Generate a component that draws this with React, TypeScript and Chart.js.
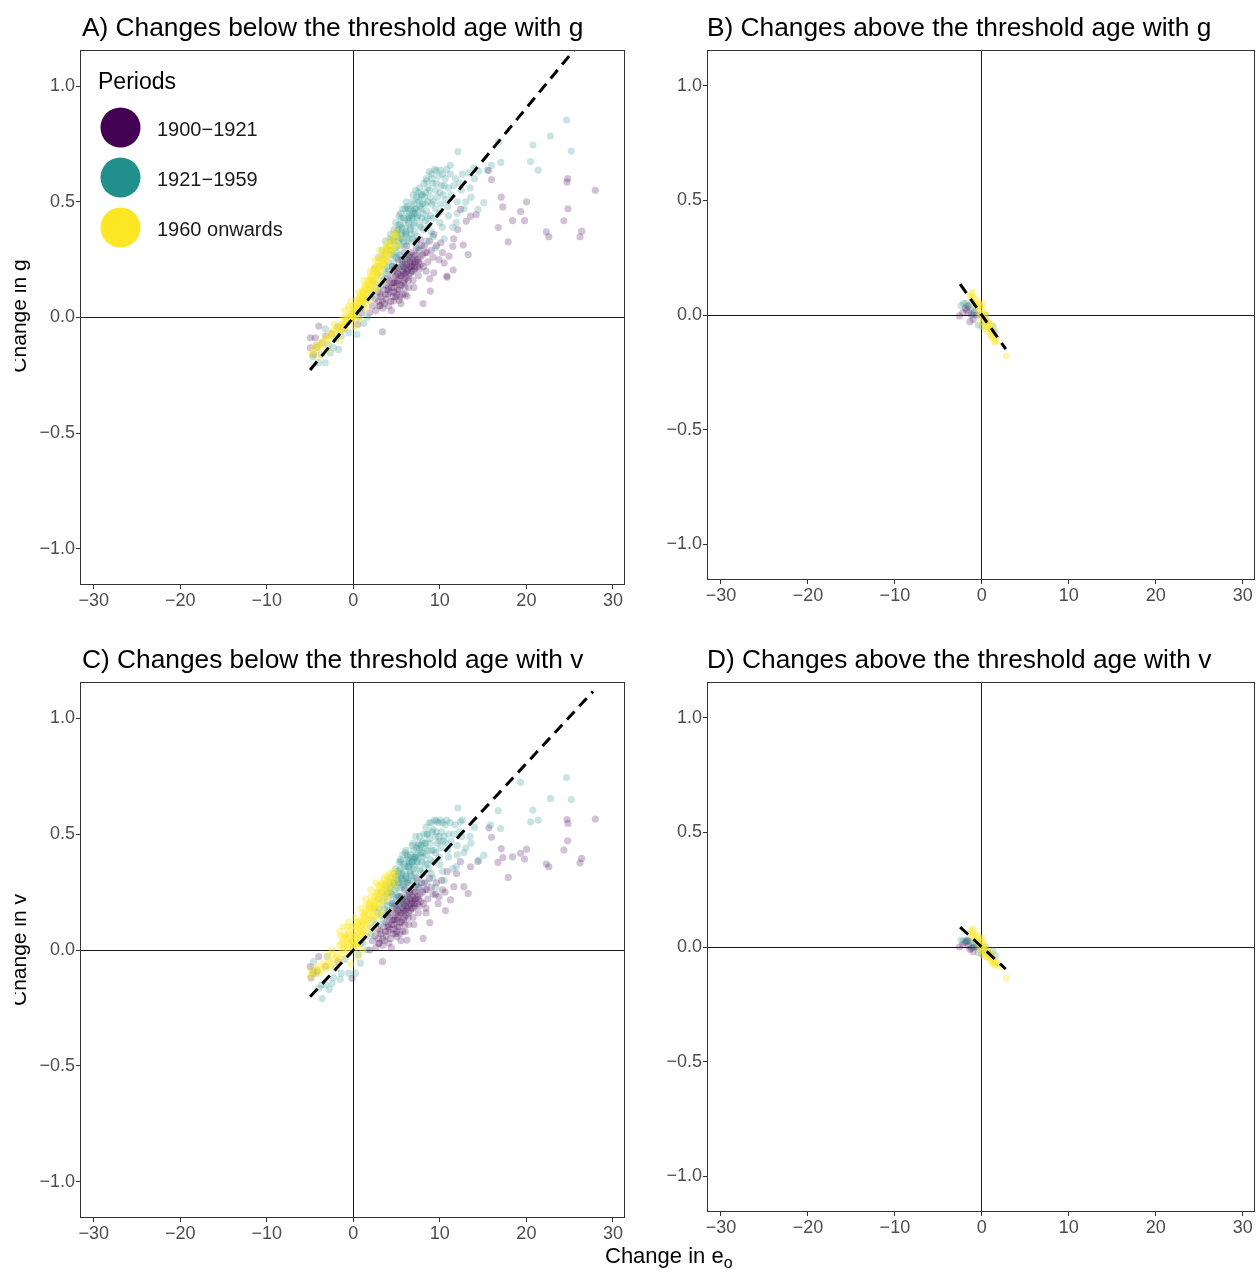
import React, { useEffect, useRef } from 'react';
import { Chart, registerables } from 'chart.js';

Chart.register(...registerables);
Chart.defaults.font.family = "'Liberation Sans', Arial, sans-serif";

// ---------- shared labels / ticks ----------
const legendTitle = 'Periods';
const periodLabels = ['1900\u22121921', '1921\u22121959', '1960 onwards'];
const periodColors = ['#440154', '#21908C', '#FDE725'];
const periodFill = ['rgba(68,1,84,0.24)', 'rgba(33,144,140,0.24)', 'rgba(253,231,37,0.36)'];
const xTickValues = [-30, -20, -10, 0, 10, 20, 30];
const yTickValues = [-1, -0.5, 0, 0.5, 1];
const xLimits = [-31.6, 31.4];
const yLimits = [-1.156, 1.156];

const panelTitles = [
  'A) Changes below the threshold age with g',
  'B) Changes above the threshold age with g',
  'C) Changes below the threshold age with v',
  'D) Changes above the threshold age with v',
];
const yTitles = ['Change in g', 'Change in v'];

// ---------- Panel A data (below threshold, g) ----------
const aPurple = [
  [27.97,0.55],[24.77,0.60],[24.69,0.585],[24.81,0.47],[24.34,0.418],[26.39,0.373],[26.2,0.349],[22.3,0.37],[22.6,0.349],
  [20.02,0.5],[19.33,0.458],[19.79,0.419],[18.4,0.419],[17.09,0.52],[17.28,0.478],[16.75,0.389],[17.9,0.327],[15.97,0.596],
  [15.63,0.635],[14.2,0.445],[13.54,0.438],[13.04,0.416],[12.38,0.467],[13.27,0.272],[12.07,0.38],[11.6,0.34],[12.69,0.313],
  [11.07,0.265],[11.5,0.308],[11.54,0.205],[10.84,0.174],[9.3,0.193],[8.83,0.167],[8.06,0.06],[6.2,0.092],[5.3,0.075],
  [4.67,0.071],[3.36,-0.062],[3.1,0.052],[10.5,0.236],[10.1,0.323],[9.3,0.359],[7.75,0.337],[10.8,0.179],[8.9,0.114],
  [3.2,0.09],[3.5,0.12],[3.8,0.14],[4.0,0.10],[4.2,0.16],[4.4,0.13],[4.6,0.18],[4.8,0.15],[5.0,0.20],[5.1,0.12],
  [5.3,0.17],[5.5,0.22],[5.6,0.14],[5.8,0.19],[6.0,0.24],[6.1,0.17],[6.3,0.21],[6.5,0.26],[6.6,0.19],[6.8,0.23],
  [7.0,0.27],[7.1,0.21],[7.4,0.25],[7.6,0.29],[7.8,0.23],[8.0,0.27],[4.3,0.07],[4.9,0.09],[5.7,0.10],[6.4,0.13],
  [3.0,0.05],[3.6,0.06],[2.8,0.11],[2.5,0.08],[2.2,0.05],[5.2,0.25],[4.5,0.22],[6.9,0.16],[7.5,0.18],[5.9,0.28],
  [6.2,0.31],[7.3,0.33],[8.2,0.31],[8.6,0.24],[9.0,0.29],
  [3.4,0.04],[3.9,0.17],[4.1,0.05],[4.7,0.11],[4.75,0.21],[5.05,0.15],[5.4,0.09],[5.45,0.18],[5.85,0.22],[5.95,0.13],
  [6.25,0.25],[6.35,0.16],[6.7,0.28],[6.75,0.2],[7.2,0.24],[7.25,0.3],[7.7,0.26],[7.9,0.31],[8.3,0.28],[8.4,0.2],
  [8.8,0.33],[9.2,0.26],[9.6,0.31],[9.9,0.25],[10.3,0.28],[7.0,0.13],[6.0,0.1],[5.5,0.06],[4.4,0.03],[3.7,0.1],
  [4.05,0.13],[4.65,0.15],[5.15,0.19],[5.7,0.23],[6.2,0.2],[6.55,0.22],[7.05,0.22],[7.55,0.24],[8.1,0.22],[8.5,0.28],
  [2.9,0.07],[2.6,0.03],[1.9,0.02],
  [-4.98,-0.088],[-4.98,-0.131],[-4.0,-0.037],[-4.4,-0.088],[-4.6,-0.16],[-3.6,-0.11],[-2.5,-0.07],[-1.2,-0.05],[0.5,-0.03],[1.0,0.02],
  [-3.2,-0.08],[-4.2,-0.13],[-1.8,-0.04],
];
const aPurpleCore = [
  [4.25,0.11],[4.5,0.15],[4.7,0.13],[4.9,0.18],[5.1,0.16],[5.25,0.21],[5.4,0.14],[5.6,0.18],[5.75,0.2],[5.9,0.16],
  [6.05,0.21],[6.2,0.23],[6.4,0.18],[6.55,0.24],[6.7,0.22],[6.85,0.25],[7.05,0.24],[7.2,0.27],[7.4,0.22],[5.3,0.12],
  [5.0,0.1],[4.6,0.09],[3.8,0.08],[4.0,0.12],[5.55,0.25],[6.0,0.19],[6.9,0.2],[7.6,0.21],[5.8,0.15],[6.45,0.27],[3.4,0.07],[3.1,0.1],
];
const aTeal = [
  [24.65,0.853],[22.76,0.784],[25.19,0.719],[20.76,0.745],[20.49,0.674],[21.37,0.637],[16.78,0.759],[17.05,0.67],[15.97,0.657],
  [15.47,0.637],[12.08,0.717],[13.93,0.647],[14.5,0.632],[15.08,0.496],[14.43,0.467],[11.23,0.658],[9.57,0.635],[10.07,0.637],[13.35,0.625],
  [1.5,0.08],[2.0,0.12],[2.3,0.16],[2.6,0.14],[2.8,0.19],[3.0,0.22],[3.2,0.18],[3.4,0.25],[3.6,0.21],[3.8,0.28],[4.0,0.24],
  [4.2,0.31],[4.4,0.27],[4.6,0.34],[4.8,0.30],[5.0,0.37],[5.2,0.33],[5.4,0.40],[5.6,0.36],[5.8,0.43],[6.0,0.39],[6.2,0.45],
  [6.4,0.41],[6.6,0.47],[6.8,0.43],[7.0,0.49],[7.2,0.45],[7.5,0.51],[7.8,0.47],[8.0,0.53],[8.3,0.49],[8.6,0.56],[8.9,0.52],
  [9.2,0.58],[9.5,0.55],[9.8,0.61],[10.2,0.57],[10.6,0.6],[11.0,0.56],
  [3.5,0.16],[4.1,0.2],[4.7,0.24],[5.3,0.27],[5.9,0.31],[6.5,0.34],[7.1,0.37],[7.7,0.40],[8.3,0.42],[8.9,0.44],[9.5,0.47],
  [10.1,0.49],[10.7,0.51],[11.3,0.53],[12.0,0.5],
  [9.0,0.37],[10.0,0.41],[11.0,0.44],[12.0,0.45],[13.0,0.5],[11.5,0.39],[12.5,0.55],[10.5,0.34],[9.5,0.30],[8.5,0.33],
  [7.5,0.30],[6.2,0.27],[5.5,0.22],[11.8,0.6],[12.6,0.62],[9.0,0.62],[8.4,0.6],[7.2,0.55],[6.8,0.5],[6.0,0.47],[5.5,0.43],
  [2.4,0.21],[2.9,0.26],[3.3,0.29],[3.7,0.33],[3.9,0.22],[4.3,0.36],[4.5,0.22],[4.9,0.41],[5.1,0.28],[5.3,0.44],
  [5.5,0.31],[5.7,0.47],[5.75,0.25],[6.1,0.5],[6.3,0.33],[6.45,0.44],[6.7,0.36],[6.9,0.53],[7.05,0.41],[7.3,0.47],
  [7.4,0.35],[7.65,0.56],[7.9,0.43],[8.1,0.38],[8.15,0.58],[8.45,0.46],[8.7,0.4],[8.75,0.63],[9.05,0.49],[9.3,0.43],
  [9.4,0.64],[9.7,0.52],[9.9,0.45],[10.3,0.62],[10.4,0.53],[10.9,0.48],[11.2,0.62],[11.6,0.57],[12.3,0.58],[13.5,0.56],
  [14.0,0.6],[12.8,0.47],[13.6,0.52],[11.9,0.41],[10.3,0.39],[9.2,0.35],[5.0,0.26],[4.35,0.29],[3.85,0.19],[6.55,0.39],
  [7.35,0.43],[8.05,0.45],[6.15,0.36],[5.65,0.34],[4.75,0.33],[5.2,0.38],[6.9,0.46],[7.6,0.5],[8.2,0.52],[8.8,0.55],
  [9.6,0.58],[10.8,0.64],[3.1,0.13],[2.1,0.09],[1.1,0.05],[0.6,0.0],
  [-3.24,-0.049],[-4.0,-0.196],[-3.24,-0.196],[-2.66,-0.153],[-1.7,-0.138],[-0.54,-0.066],[0.42,-0.073],[1.2,-0.026],
  [-2.0,-0.09],[-1.0,-0.03],[0.0,0.02],[0.8,0.04],[-4.3,-0.12],[-2.9,-0.12],[1.6,0.0],
  [-1.4,-0.08],[-2.3,-0.13],[-3.7,-0.16],[-4.7,-0.17],
];
const aTealCore = [
  [4.1,0.29],[4.4,0.33],[4.6,0.27],[4.85,0.36],[5.05,0.31],[5.25,0.4],[5.35,0.34],[5.6,0.39],[5.8,0.33],[5.95,0.42],
  [6.05,0.37],[6.3,0.42],[6.35,0.47],[6.6,0.38],[6.75,0.44],[6.95,0.4],[7.1,0.47],[7.3,0.52],[7.45,0.44],[7.7,0.48],
  [7.85,0.53],[8.0,0.49],[8.35,0.54],[8.6,0.5],[5.15,0.35],[5.5,0.37],[6.0,0.36],[6.5,0.43],[7.0,0.45],[3.6,0.27],
  [3.9,0.3],[4.25,0.34],[4.7,0.38],[5.45,0.45],[6.2,0.48],[7.55,0.54],[8.5,0.59],[9.1,0.6],[6.85,0.34],[7.8,0.39],
  [8.6,0.43],[9.3,0.5],[10.0,0.54],[10.5,0.57],
];
const aYellow = [
  [-4.9,-0.15],[-4.5,-0.13],[-4.2,-0.14],[-3.8,-0.11],[-3.5,-0.12],[-3.2,-0.09],[-2.9,-0.1],[-2.6,-0.07],[-2.3,-0.08],
  [-2.0,-0.05],[-1.8,-0.07],[-1.5,-0.04],[-1.3,-0.05],[-1.0,-0.02],[-0.8,-0.04],[-0.6,0.0],[-0.4,-0.02],[-0.2,0.02],
  [0.0,0.0],[0.1,0.04],[0.3,0.02],[0.4,0.06],[0.6,0.04],[0.7,0.08],[0.9,0.06],[1.0,0.1],[1.2,0.08],[1.3,0.12],[1.5,0.1],
  [1.6,0.14],[1.8,0.12],[1.9,0.16],[2.1,0.14],[2.2,0.18],[2.4,0.16],[2.5,0.2],[2.7,0.18],[2.8,0.22],[3.0,0.2],[3.1,0.24],
  [3.3,0.22],[3.4,0.26],[3.6,0.24],[3.7,0.28],[3.9,0.26],[4.0,0.3],[4.2,0.28],[4.4,0.32],[4.6,0.3],[4.8,0.34],[5.0,0.32],
  [4.7,0.36],[5.3,0.35],[-0.5,0.05],[-1.0,0.03],[0.2,-0.04],[0.8,-0.01],[1.5,0.04],[2.0,0.07],[2.6,0.12],[3.2,0.15],
  [-1.5,-0.1],[-3.0,-0.14],[-4.0,-0.17],[-2.2,-0.03],[-0.3,0.07],
  [-4.7,-0.16],[-4.3,-0.12],[-3.9,-0.13],[-3.4,-0.1],[-2.8,-0.08],[-2.4,-0.06],[-1.9,-0.04],[-1.6,-0.06],[-1.1,-0.03],
  [-0.9,0.0],[-0.7,-0.02],[-0.5,0.01],[-0.1,0.01],[0.05,0.03],[0.25,0.05],[0.5,0.03],[0.55,0.07],[0.85,0.09],[1.05,0.07],
  [1.15,0.11],[1.4,0.13],[1.45,0.08],[1.7,0.11],[1.75,0.15],[2.0,0.17],[2.05,0.12],[2.3,0.15],[2.35,0.2],[2.6,0.22],
  [2.65,0.16],[2.9,0.18],[2.95,0.24],[3.2,0.26],[3.25,0.2],[3.5,0.23],[3.55,0.29],[3.8,0.31],[3.85,0.24],[4.1,0.27],
  [4.15,0.33],[4.5,0.29],[4.5,0.35],[4.9,0.37],[5.2,0.31],[3.0,0.29],[2.5,0.25],[1.9,0.2],[1.2,0.16],[0.6,0.11],
  [0.0,0.05],[-0.6,0.04],[-1.2,0.0],
];
const aYellowCore = [
  [-0.2,-0.01],[0.15,0.01],[0.35,0.04],[0.65,0.06],[0.95,0.08],[1.25,0.1],[1.55,0.12],[1.85,0.14],[2.15,0.16],[2.45,0.18],
  [2.75,0.2],[3.05,0.22],[3.35,0.24],[3.65,0.26],[3.95,0.28],[4.25,0.3],[-0.45,0.0],[-0.75,-0.01],[-1.05,-0.04],[-1.35,-0.03],
  [0.45,0.08],[0.75,0.1],[1.05,0.12],[1.35,0.14],[1.65,0.16],[1.95,0.18],[2.25,0.2],[2.55,0.22],[2.85,0.24],[3.15,0.26],
  [3.45,0.28],[3.75,0.3],[4.05,0.32],[0.25,0.0],[1.35,0.06],[2.45,0.13],
];
const aFit = [[-5, -0.227], [27.97, 1.267]];

// ---------- Panel B data (above threshold, g) ----------
const bPurple = [
  [-2.59,-0.004],[-1.37,-0.029],[-1.75,0.022],[-1.9,0.03],[-1.5,0.01],[-1.2,0.0],[-0.9,0.01],[-2.2,0.01],[-1.0,-0.02],[-0.6,0.0],[-1.6,0.04],
];
const bTeal = [
  [-2.13,0.051],[-0.42,-0.044],[1.49,-0.073],[-1.8,0.05],[-1.5,0.04],[-1.2,0.03],[-0.8,0.02],[-0.3,0.0],[0.2,-0.02],[0.6,-0.03],
  [1.0,-0.06],[1.3,-0.05],[-1.0,0.0],[0.0,-0.05],[-2.4,0.04],[0.4,0.0],
];
const bYellow = [
  [-1.37,0.08],[-1.1,0.07],[-0.9,0.05],[-0.7,0.04],[-0.5,0.03],[-0.3,0.01],[-0.1,0.0],[0.1,-0.01],[0.3,-0.02],[0.5,-0.03],
  [0.7,-0.05],[0.9,-0.06],[1.1,-0.07],[1.3,-0.08],[1.5,-0.09],[1.68,-0.109],[2.82,-0.179],[-0.8,0.07],[-0.4,0.05],[0.0,0.03],
  [0.4,0.0],[0.8,-0.03],[1.2,-0.05],[-0.2,-0.03],[0.2,-0.05],[0.6,-0.07],[1.0,-0.09],[1.4,-0.11],[-1.0,0.1],[0.1,0.05],
  [-1.2,0.09],[-0.6,0.06],[0.3,0.01],[0.9,-0.04],[1.5,-0.12],[0.5,-0.06],[-0.1,0.04],[1.2,-0.09],
];
const bFit = [[-2.5, 0.135], [2.75, -0.149]];

// ---------- Panel C data (below threshold, v) ----------
const cPurple = [
  [27.97,0.565],[24.69,0.563],[24.81,0.546],[24.77,0.471],[24.34,0.431],[26.39,0.395],[26.2,0.376],[22.3,0.371],[22.6,0.359],
  [20.02,0.435],[19.33,0.417],[19.79,0.392],[18.4,0.402],[17.28,0.399],[17.09,0.437],[16.71,0.378],[17.9,0.313],[15.66,0.527],
  [15.97,0.486],[14.39,0.382],[13.54,0.359],[12.38,0.381],[11.92,0.33],[12.77,0.273],[13.27,0.244],[11.61,0.273],[11.23,0.216],
  [10.65,0.17],[8.83,0.118],[8.06,0.05],[6.2,0.043],[5.05,0.057],[3.36,-0.05],[2.93,0.029],[-0.15,-0.122],
  [-4.98,-0.072],[-4.0,-0.029],[-4.6,-0.1],[-4.9,-0.12],
  [3.2,0.07],[3.5,0.10],[3.8,0.12],[4.0,0.08],[4.2,0.14],[4.4,0.11],[4.6,0.16],[4.8,0.13],[5.0,0.18],[5.1,0.10],
  [5.3,0.15],[5.5,0.2],[5.6,0.12],[5.8,0.17],[6.0,0.22],[6.1,0.15],[6.3,0.19],[6.5,0.24],[6.6,0.17],[6.8,0.21],
  [7.0,0.25],[7.1,0.19],[7.4,0.23],[7.6,0.27],[7.8,0.21],[8.0,0.25],[4.3,0.05],[4.9,0.07],[5.7,0.08],[6.4,0.11],
  [3.0,0.03],[3.6,0.04],[2.8,0.09],[2.5,0.06],[2.2,0.04],[5.2,0.23],[4.5,0.2],[6.9,0.14],[7.5,0.16],[5.9,0.26],
  [6.2,0.29],[7.3,0.31],[8.2,0.29],[8.6,0.22],[9.0,0.27],[9.5,0.24],[10.2,0.3],[9.8,0.2],[8.4,0.16],[10.6,0.25],[10.84,0.338],
  [3.4,0.02],[3.9,0.15],[4.1,0.03],[4.7,0.09],[4.75,0.19],[5.05,0.13],[5.4,0.07],[5.45,0.16],[5.85,0.2],[5.95,0.11],
  [6.25,0.23],[6.35,0.14],[6.7,0.26],[6.75,0.18],[7.2,0.22],[7.25,0.28],[7.7,0.24],[7.9,0.29],[8.3,0.26],[8.4,0.18],
  [8.8,0.31],[9.2,0.24],[9.6,0.29],[9.9,0.23],[10.3,0.26],[7.0,0.11],[6.0,0.08],[5.5,0.04],[4.4,0.01],[3.7,0.08],
  [4.05,0.11],[4.65,0.13],[5.15,0.17],[5.7,0.21],[6.2,0.18],[6.55,0.2],[7.05,0.2],[7.55,0.22],[8.1,0.2],[8.5,0.26],
  [2.9,0.05],[2.6,0.01],[1.9,0.0],[-3.2,-0.07],[-4.2,-0.09],[-1.8,-0.05],
];
const cPurpleCore = [
  [4.25,0.09],[4.5,0.13],[4.7,0.11],[4.9,0.16],[5.1,0.14],[5.25,0.19],[5.4,0.12],[5.6,0.16],[5.75,0.18],[5.9,0.14],
  [6.05,0.19],[6.2,0.21],[6.4,0.16],[6.55,0.22],[6.7,0.2],[6.85,0.23],[7.05,0.22],[7.2,0.25],[7.4,0.2],[5.3,0.1],
  [5.0,0.08],[4.6,0.07],[3.8,0.06],[4.0,0.1],[5.55,0.23],[6.0,0.17],[6.9,0.18],[7.6,0.19],[5.8,0.13],[6.45,0.25],[3.4,0.05],[3.1,0.08],
];
const cTeal = [
  [24.65,0.744],[22.8,0.654],[25.19,0.649],[20.76,0.603],[20.49,0.553],[21.37,0.56],[19.33,0.723],[17.01,0.524],[16.74,0.601],
  [15.86,0.539],[12.08,0.613],[12.38,0.553],[15.08,0.409],[14.5,0.388],[9.57,0.556],[10.07,0.56],[9.88,0.489],
  [1.5,0.06],[2.0,0.1],[2.3,0.13],[2.6,0.11],[2.8,0.16],[3.0,0.18],[3.2,0.15],[3.4,0.21],[3.6,0.18],[3.8,0.24],[4.0,0.21],
  [4.2,0.27],[4.4,0.24],[4.6,0.29],[4.8,0.26],[5.0,0.32],[5.2,0.29],[5.4,0.35],[5.6,0.31],[5.8,0.37],[6.0,0.34],[6.2,0.39],
  [6.4,0.36],[6.6,0.41],[6.8,0.38],[7.0,0.43],[7.2,0.4],[7.5,0.45],[7.8,0.42],[8.0,0.47],[8.3,0.44],[8.6,0.5],[8.9,0.46],
  [9.2,0.52],[9.5,0.49],[9.8,0.55],[10.2,0.51],[10.6,0.54],[11.0,0.5],
  [3.5,0.13],[4.1,0.17],[4.7,0.2],[5.3,0.23],[5.9,0.27],[6.5,0.3],[7.1,0.33],[7.7,0.35],[8.3,0.37],[8.9,0.39],[9.5,0.42],
  [10.1,0.44],[10.7,0.46],[11.3,0.47],[12.0,0.45],
  [9.0,0.33],[10.0,0.37],[11.0,0.4],[12.0,0.41],[13.0,0.44],[11.5,0.35],[12.5,0.49],[10.5,0.3],[9.5,0.27],[8.5,0.29],
  [7.5,0.27],[6.2,0.24],[5.5,0.19],[11.8,0.54],[12.6,0.56],[9.0,0.55],[8.4,0.53],[7.2,0.49],[6.8,0.45],[6.0,0.42],[5.5,0.38],
  [2.4,0.18],[2.9,0.22],[3.3,0.25],[3.7,0.28],[3.9,0.19],[4.3,0.31],[4.5,0.19],[4.9,0.35],[5.1,0.24],[5.3,0.38],
  [5.5,0.27],[5.7,0.41],[5.75,0.22],[6.1,0.43],[6.3,0.29],[6.45,0.38],[6.7,0.32],[6.9,0.46],[7.05,0.36],[7.3,0.41],
  [7.4,0.3],[7.65,0.49],[7.9,0.38],[8.1,0.33],[8.15,0.5],[8.45,0.41],[8.7,0.35],[8.75,0.55],[9.05,0.43],[9.3,0.38],
  [9.4,0.56],[9.7,0.46],[9.9,0.4],[10.3,0.55],[10.4,0.47],[10.9,0.43],[11.2,0.55],[11.6,0.5],[12.3,0.51],[13.5,0.49],
  [14.0,0.53],[12.8,0.42],[13.6,0.46],[11.9,0.36],[10.3,0.34],[9.2,0.31],[5.0,0.22],[4.35,0.25],[3.85,0.16],[6.55,0.34],
  [7.35,0.38],[8.05,0.4],[6.15,0.31],[5.65,0.3],[4.75,0.29],[5.2,0.33],[6.9,0.4],[7.6,0.44],[8.2,0.46],[8.8,0.48],
  [9.6,0.51],[10.8,0.56],[3.1,0.11],[2.1,0.07],[1.1,0.03],[0.6,-0.02],
  [-4.0,-0.165],[-3.24,-0.151],[-2.5,-0.144],[-1.5,-0.126],[-0.54,-0.1],[0.81,-0.057],[0.23,-0.1],[-4.6,-0.05],[-3.05,-0.029],
  [-2.0,-0.08],[-1.0,-0.04],[0.0,0.01],[0.8,0.03],[-4.3,-0.1],[1.6,0.0],[-3.6,-0.21],[-2.8,-0.17],
  [-1.4,-0.1],[-2.3,-0.12],[-3.7,-0.15],[-4.7,-0.09],
];
const cTealCore = [
  [4.1,0.25],[4.4,0.28],[4.6,0.23],[4.85,0.31],[5.05,0.27],[5.25,0.34],[5.35,0.29],[5.6,0.33],[5.8,0.28],[5.95,0.36],
  [6.05,0.32],[6.3,0.36],[6.35,0.4],[6.6,0.33],[6.75,0.38],[6.95,0.35],[7.1,0.4],[7.3,0.44],[7.45,0.38],[7.7,0.41],
  [7.85,0.45],[8.0,0.42],[8.35,0.46],[8.6,0.43],[5.15,0.3],[5.5,0.32],[6.0,0.31],[6.5,0.37],[7.0,0.39],[3.6,0.23],
  [3.9,0.26],[4.25,0.29],[4.7,0.33],[5.45,0.39],[6.2,0.41],[7.55,0.46],[8.5,0.5],[9.1,0.51],[6.85,0.3],[7.8,0.34],
  [8.6,0.37],[9.3,0.43],[10.0,0.47],[10.5,0.49],
];
const cYellow = [
  [-4.9,-0.09],[-4.5,-0.1],[-4.2,-0.07],[-3.8,-0.09],[-3.5,-0.06],[-3.2,-0.08],[-2.9,-0.05],[-2.6,-0.07],[-2.3,-0.04],
  [-2.0,-0.06],[-1.8,-0.02],[-1.5,-0.04],[-1.3,0.0],[-1.0,-0.02],[-0.8,0.03],[-0.6,0.0],[-0.4,0.05],[-0.2,0.02],[0.0,0.07],
  [0.1,0.0],[0.3,0.09],[0.4,0.03],[0.6,0.11],[0.7,0.05],[0.9,0.13],[1.0,0.07],[1.2,0.15],[1.3,0.09],[1.5,0.17],[1.6,0.11],
  [1.8,0.19],[1.9,0.13],[2.1,0.21],[2.2,0.15],[2.4,0.23],[2.5,0.17],[2.7,0.25],[2.8,0.19],[3.0,0.27],[3.1,0.21],[3.3,0.29],
  [3.4,0.23],[3.6,0.3],[3.7,0.25],[3.9,0.32],[4.0,0.27],[4.2,0.33],[4.4,0.29],[4.6,0.34],[4.8,0.31],[5.0,0.33],
  [-1.6,0.08],[-1.2,0.1],[-0.5,0.12],[0.2,0.14],[0.8,0.18],[1.4,0.22],[2.0,0.26],[2.6,0.29],[0.5,-0.03],[-0.3,-0.06],
  [1.1,0.0],[-1.0,0.06],[-2.5,0.0],[-3.0,-0.02],[-4.98,-0.115],[-0.73,0.1],
  [-4.7,-0.1],[-4.3,-0.08],[-3.9,-0.1],[-3.4,-0.07],[-2.8,-0.06],[-2.4,-0.02],[-1.9,-0.03],[-1.6,0.02],[-1.1,0.03],
  [-0.9,0.06],[-0.7,0.01],[-0.5,0.08],[-0.1,0.04],[0.05,0.1],[0.25,0.06],[0.5,0.12],[0.55,0.02],[0.85,0.08],[1.05,0.16],
  [1.15,0.05],[1.4,0.12],[1.45,0.19],[1.7,0.08],[1.75,0.2],[2.0,0.14],[2.05,0.23],[2.3,0.1],[2.35,0.19],[2.6,0.24],
  [2.65,0.14],[2.9,0.22],[2.95,0.28],[3.2,0.25],[3.25,0.17],[3.5,0.27],[3.55,0.31],[3.8,0.22],[3.85,0.29],[4.1,0.31],
  [4.15,0.24],[4.5,0.32],[4.5,0.27],[4.9,0.29],[3.0,0.15],[2.5,0.2],[1.9,0.17],[1.2,0.11],[0.6,0.07],[0.0,0.03],
  [-0.6,0.07],[-1.2,0.05],[-1.5,0.06],[-0.2,0.1],
];
const cYellowCore = [
  [-0.2,0.04],[0.15,0.06],[0.35,0.1],[0.65,0.12],[0.95,0.1],[1.25,0.14],[1.55,0.15],[1.85,0.18],[2.15,0.18],[2.45,0.21],
  [2.75,0.22],[3.05,0.24],[3.35,0.26],[3.65,0.27],[3.95,0.29],[4.25,0.3],[-0.45,0.03],[-0.75,0.05],[-1.05,0.01],[-1.35,0.03],
  [0.45,0.05],[0.75,0.08],[1.05,0.12],[1.35,0.16],[1.65,0.13],[1.95,0.2],[2.25,0.16],[2.55,0.19],[2.85,0.25],[3.15,0.28],
  [3.45,0.21],[3.75,0.24],[4.05,0.26],[0.25,0.02],[1.35,0.07],[2.45,0.1],
];
const cFit = [[-5, -0.202], [27.7, 1.115]];

// ---------- Panel D data (above threshold, v) ----------
const dPurple = [
  [-2.59,0.0],[-1.37,-0.01],[-1.75,0.025],[-1.9,0.02],[-1.5,0.005],[-1.2,-0.005],[-0.9,0.0],[-2.2,0.01],[-1.0,-0.02],[-0.6,0.0],[-1.6,0.03],
];
const dTeal = [
  [-2.13,0.026],[-0.42,-0.025],[1.3,-0.017],[-1.8,0.03],[-1.5,0.025],[-1.2,0.02],[-0.8,0.01],[-0.3,0.0],[0.2,-0.01],[0.6,-0.02],
  [1.0,-0.03],[1.6,-0.04],[-1.0,0.0],[0.0,-0.03],[-2.4,0.03],[0.4,0.0],
];
const dYellow = [
  [-1.37,0.06],[-1.1,0.05],[-0.9,0.04],[-0.7,0.03],[-0.5,0.02],[-0.3,0.01],[-0.1,0.0],[0.1,-0.01],[0.3,-0.015],[0.5,-0.025],
  [0.7,-0.03],[0.9,-0.04],[1.1,-0.05],[1.3,-0.055],[1.5,-0.065],[1.7,-0.07],[2.06,-0.085],[2.82,-0.136],[-0.8,0.06],[-0.4,0.04],
  [0.0,0.02],[0.4,0.0],[0.8,-0.02],[1.2,-0.035],[-0.2,-0.02],[0.2,-0.035],[0.6,-0.045],[1.0,-0.06],[1.4,-0.075],[-1.0,0.08],[0.1,0.04],
  [-1.2,0.07],[-0.6,0.05],[0.3,0.01],[0.9,-0.025],[1.5,-0.08],[0.5,-0.04],[-0.1,0.03],[1.2,-0.065],
];
const dFit = [[-2.5, 0.087], [2.75, -0.096]];

// ---------- helpers ----------
const FONT = "'Liberation Sans', Arial, sans-serif";
const toPts = (arr: number[][]) => arr.map(([x, y]) => ({ x, y }));
const fmtX = (v: number) => (v < 0 ? '\u2212' + Math.abs(v) : String(v));
const fmtY = (v: number) => (v < 0 ? '\u2212' + Math.abs(v).toFixed(1) : v.toFixed(1));

const framePlugin = {
  id: 'frame',
  afterDraw(chart: any) {
    const { ctx, chartArea: a } = chart;
    ctx.save();
    ctx.strokeStyle = '#333333';
    ctx.lineWidth = 1;
    ctx.strokeRect(Math.round(a.left) + 0.5, Math.round(a.top) + 0.5, Math.round(a.right - a.left) - 1, Math.round(a.bottom - a.top) - 1);
    ctx.restore();
  },
};

const legendPlugin = {
  id: 'periodLegend',
  afterDraw(chart: any) {
    const { ctx, chartArea: a } = chart;
    ctx.save();
    ctx.textBaseline = 'alphabetic';
    ctx.textAlign = 'left';
    ctx.fillStyle = '#000';
    ctx.font = `23px ${FONT}`;
    ctx.fillText(legendTitle, a.left + 18, a.top + 39);
    periodLabels.forEach((lab, i) => {
      const cy = a.top + 77.5 + i * 50;
      ctx.beginPath();
      ctx.arc(a.left + 40.5, cy, 20, 0, Math.PI * 2);
      ctx.fillStyle = periodColors[i];
      ctx.fill();
      ctx.fillStyle = '#1a1a1a';
      ctx.font = `20px ${FONT}`;
      ctx.fillText(lab, a.left + 77, cy + 8);
    });
    ctx.restore();
  },
};

type Spec = {
  left: number; top: number; width: number; height: number;
  padTop: number; padRight: number; yWidth: number; xHeight: number;
  series: number[][][]; fit: number[][]; legend?: boolean;
};

function Panel({ spec }: { spec: Spec }) {
  const ref = useRef<HTMLCanvasElement>(null);
  useEffect(() => {
    const gridColor = (c: any) => (c.tick && c.tick.value === 0 ? '#1a1a1a' : 'rgba(0,0,0,0)');
    const chart = new Chart(ref.current as HTMLCanvasElement, {
      type: 'scatter',
      data: {
        datasets: [
          {
            type: 'line',
            label: 'fit',
            data: toPts(spec.fit),
            borderColor: '#000',
            borderWidth: 3,
            borderDash: [11, 7],
            pointRadius: 0,
            fill: false,
            order: 0,
            clip: 0,
          } as any,
          ...spec.series.map((s, i) => ({
            label: periodLabels[i],
            data: toPts(s),
            backgroundColor: periodFill[i],
            borderWidth: 0,
            pointRadius: 3.6,
            order: 3 - i,
          })),
        ],
      },
      options: {
        responsive: false,
        animation: false,
        events: [],
        layout: { padding: { top: spec.padTop, right: spec.padRight, left: 0, bottom: 0 } },
        plugins: { legend: { display: false }, tooltip: { enabled: false }, title: { display: false } },
        scales: {
          x: {
            type: 'linear',
            min: xLimits[0],
            max: xLimits[1],
            afterBuildTicks: (s: any) => { s.ticks = xTickValues.map((v) => ({ value: v })); },
            afterFit: (s: any) => { s.height = spec.xHeight; },
            border: { display: false },
            grid: { color: gridColor, tickColor: '#333333', tickLength: 4, lineWidth: 1 },
            ticks: {
              callback: (v: any) => fmtX(Number(v)),
              color: '#4d4d4d',
              font: { size: 18, family: FONT },
              padding: 1,
              maxRotation: 0,
              autoSkip: false,
            },
          },
          y: {
            type: 'linear',
            min: yLimits[0],
            max: yLimits[1],
            afterBuildTicks: (s: any) => { s.ticks = yTickValues.map((v) => ({ value: v })); },
            afterFit: (s: any) => { s.width = spec.yWidth; },
            border: { display: false },
            grid: { color: gridColor, tickColor: '#333333', tickLength: 4, lineWidth: 1 },
            ticks: {
              callback: (v: any) => fmtY(Number(v)),
              color: '#4d4d4d',
              font: { size: 18, family: FONT },
              padding: 1,
              autoSkip: false,
            },
          },
        },
      } as any,
      plugins: spec.legend ? [framePlugin, legendPlugin] : [framePlugin],
    });
    return () => chart.destroy();
  }, [spec]);
  return (
    <canvas
      ref={ref}
      width={spec.width}
      height={spec.height}
      style={{ position: 'absolute', left: spec.left, top: spec.top, width: spec.width, height: spec.height }}
    />
  );
}

const specs: Spec[] = [
  { left: 0, top: 0, width: 640, height: 620, padTop: 50, padRight: 15, yWidth: 80, xHeight: 35,
    series: [aPurple.concat(aPurpleCore), aTeal.concat(aTealCore), aYellow.concat(aYellowCore)], fit: aFit, legend: true },
  { left: 630, top: 0, width: 629, height: 620, padTop: 50, padRight: 2, yWidth: 77, xHeight: 40,
    series: [bPurple, bTeal, bYellow], fit: bFit },
  { left: 0, top: 632, width: 640, height: 620, padTop: 50, padRight: 15, yWidth: 80, xHeight: 34,
    series: [cPurple.concat(cPurpleCore), cTeal.concat(cTealCore), cYellow.concat(cYellowCore)], fit: cFit },
  { left: 630, top: 632, width: 629, height: 620, padTop: 50, padRight: 2, yWidth: 77, xHeight: 40,
    series: [dPurple, dTeal, dYellow], fit: dFit },
];

const titlePos = [
  { left: 82, top: 14 },
  { left: 707, top: 14 },
  { left: 82, top: 646 },
  { left: 707, top: 646 },
];

export default function App() {
  return (
    <div style={{ position: 'absolute', left: 0, top: 0, width: 1259, height: 1269, background: '#fff', overflow: 'hidden', fontFamily: FONT }}>
      {specs.map((s, i) => (
        <Panel key={i} spec={s} />
      ))}
      {panelTitles.map((t, i) => (
        <div key={t} style={{ position: 'absolute', left: titlePos[i].left, top: titlePos[i].top, fontSize: 26.3, lineHeight: '26px', color: '#000', whiteSpace: 'nowrap' }}>
          {t}
        </div>
      ))}
      {yTitles.map((t, i) => (
        <div key={t} style={{ position: 'absolute', left: 15, top: i === 0 ? 200 : 834, width: 40, height: 240, overflow: 'hidden' }}>
          <div style={{ position: 'absolute', left: 17.5 - 15, top: 116, transform: 'translate(-50%,-50%) rotate(-90deg)', fontSize: 21, lineHeight: '21px', color: '#000', whiteSpace: 'nowrap' }}>
            {t}
          </div>
        </div>
      ))}
      <div style={{ position: 'absolute', left: 605, top: 1245, fontSize: 22, lineHeight: '22px', color: '#000', whiteSpace: 'nowrap' }}>
        Change in e<span style={{ position: 'relative', top: 5, fontSize: 16 }}>o</span>
      </div>
    </div>
  );
}
